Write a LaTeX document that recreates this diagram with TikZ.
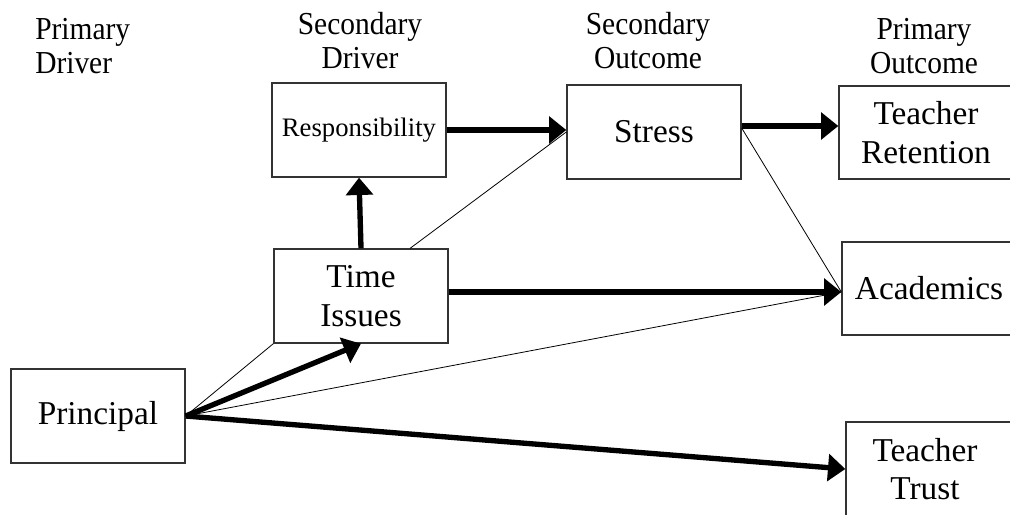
\documentclass[tikz,border=0pt]{standalone}
\usepackage{fontspec}
\setmainfont{Liberation Serif}
\usetikzlibrary{arrows.meta,calc}
\newcommand{\hdrtext}[2]{\scalebox{0.92}[1]{\begin{tabular}[b]{@{}#1@{}}#2\end{tabular}}}
\begin{document}
\begin{tikzpicture}[x=0.75pt,y=-0.75pt,
  box/.style={draw=black!80, line width=1pt, minimum width=130.5pt, minimum height=70.5pt,
    inner sep=0pt, align=center, font=\fontsize{25}{29}\selectfont},
  hdr/.style={inner sep=0pt, font=\fontsize{24}{25.5}\selectfont},
  strong/.style={line width=4pt, -{Triangle[length=13pt,width=20pt]}},
  fine/.style={line width=0.6pt}]
\path[use as bounding box] (0,0) rectangle (1010,514);
\clip (0,0) rectangle (1010,514);
\fill[white] (0,0) rectangle (1010,514);

% headers (base anchor = baseline of last line)
\node[hdr, anchor=base west] (h1) at (35,73) {\hdrtext{l}{Primary\\Driver}};
\node[hdr, anchor=base] (h2) at (360,68) {\hdrtext{c}{Secondary\\Driver}};
\node[hdr, anchor=base] (h3) at (648,68) {\hdrtext{c}{Secondary\\Outcome}};
\node[hdr, anchor=base] (h4) at (924,73) {\hdrtext{c}{Primary\\Outcome}};

% boxes
\node[box, font=\fontsize{20}{24}\selectfont] (resp) at (359,130) {Responsibility};
\node[box] (stress) at (654,132) {Stress};
\node[box, minimum height=69.75pt] (ret) at (926,132.5) {Teacher\\Retention};
\node[box] (time) at (361,296) {Time\\Issues};
\node[box, minimum height=69.75pt] (acad) at (929,288.5) {Academics};
\node[box] (princ) at (98,416) {Principal};
\node[box] (trust) at (933,469) {};
\node[inner sep=0pt, align=center, font=\fontsize{25}{29}\selectfont] (trusttext) at (925,469) {Teacher\\Trust};

% connectors
\draw[fine] ($(time.north west)!0.78!(time.north east)$) -- (stress.west);
\draw[fine] ($(stress.east)+(0,-4)$) -- ($(acad.west)+(0,3.5)$);
\draw[fine] (princ.east) -- (time.south west);
\draw[fine] (princ.east) -- ($(acad.west)+(0,3.5)$);

\draw[strong] (resp.east) -- (resp.east -| stress.west);
\draw[strong] (time.north) -- (resp.south);
\draw[strong] ($(stress.east)+(0,-6)$) coordinate (se) -- (se -| ret.west);
\draw[strong] ($(time.east)+(0,-4)$) coordinate (te) -- (te -| acad.west);
\draw[strong] (princ.east) -- (time.south);
\draw[strong] (princ.east) -- (trust.west);
\end{tikzpicture}
\end{document}
